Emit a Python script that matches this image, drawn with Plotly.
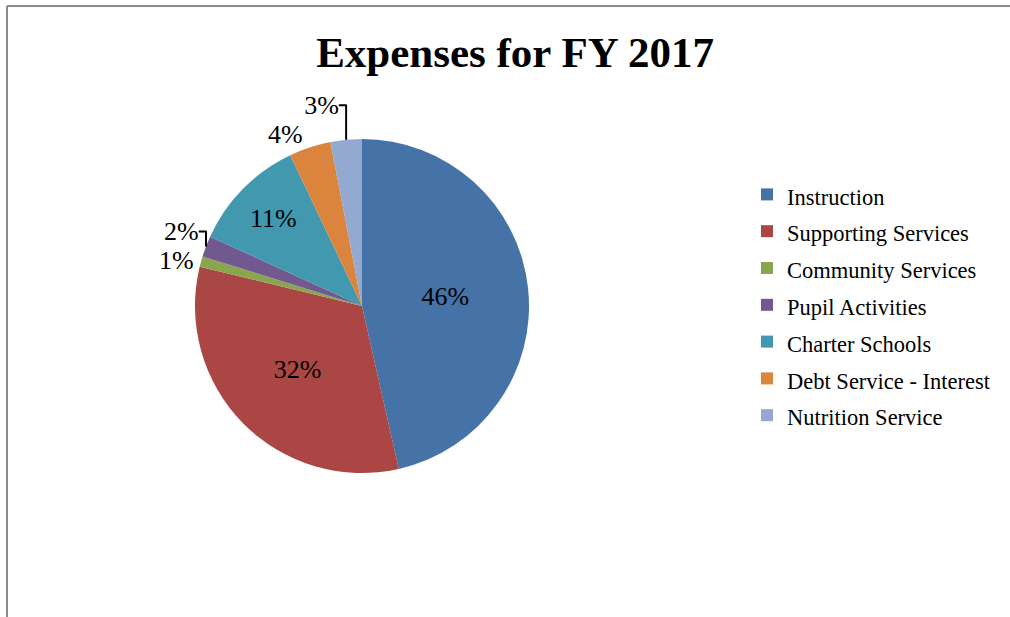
import plotly.graph_objects as go

categories = ["Instruction", "Supporting Services", "Community Services",
              "Pupil Activities", "Charter Schools", "Debt Service - Interest",
              "Nutrition Service"]
values = [46, 32, 1, 2, 11, 4, 3]
colors = ["#4572A7", "#AA4643", "#89A54E", "#71588F", "#4198AF", "#DB843D", "#93A9CF"]
text_positions = ["inside", "inside", "outside", "outside", "inside", "outside", "outside"]

# legend entries rendered at 22.5px while the legend row height follows a larger font
legend_labels = [f"<span style='font-size:22.5px'>{c}</span>" for c in categories]

W, H = 1010, 617
cx, cy, r = 362, 306, 167

fig = go.Figure(go.Pie(
    labels=legend_labels,
    values=values,
    sort=False,
    direction="clockwise",
    rotation=0,
    marker=dict(colors=colors, line=dict(width=0)),
    texttemplate="%{percent:.0%}",
    textposition=text_positions,
    textfont=dict(family="Liberation Serif", size=26, color="black"),
    insidetextorientation="horizontal",
    hovertemplate="%{label}: %{percent:.0%}<extra></extra>",
    domain=dict(x=[(cx - r) / W, (cx + r) / W], y=[1 - (cy + r) / H, 1 - (cy - r) / H]),
))

fig.update_layout(
    width=W, height=H,
    margin=dict(l=0, r=0, t=0, b=0),
    paper_bgcolor="white",
    title=dict(text="<b>Expenses for FY 2017</b>", x=515 / W, xanchor="center",
               y=1 - 52 / H, yanchor="middle",
               font=dict(family="Liberation Serif", size=43, color="black")),
    legend=dict(x=747 / W, xanchor="left", y=1 - 171 / H, yanchor="top",
                font=dict(family="Liberation Serif", size=26, color="black"),
                bgcolor="rgba(0,0,0,0)"),
    showlegend=True,
    shapes=[
        dict(type="line", xref="paper", yref="paper", x0=7 / W, x1=7 / W, y0=0, y1=1 - 6 / H,
             line=dict(color="#8c8c8c", width=2)),
        dict(type="line", xref="paper", yref="paper", x0=7 / W, x1=1, y0=1 - 6 / H, y1=1 - 6 / H,
             line=dict(color="#8c8c8c", width=2)),
    ],
)

fig.write_html("out.html", config={"displayModeBar": False},
               post_script="document.body.style.margin='0';document.body.style.overflow='hidden';")
